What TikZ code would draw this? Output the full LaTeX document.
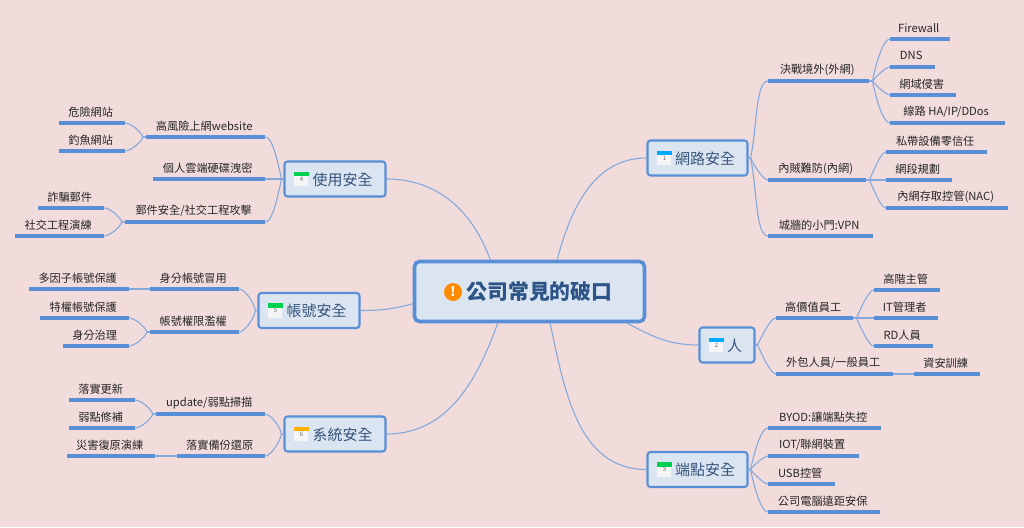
\documentclass[tikz,border=0pt]{standalone}
\usepackage{fontspec}
\setmainfont{Noto Sans CJK TC}
\usetikzlibrary{positioning}
\definecolor{paper}{RGB}{242,220,219}
\definecolor{boxfill}{RGB}{219,229,241}
\definecolor{bline}{RGB}{88,143,214}
\definecolor{thin}{RGB}{133,169,220}
\definecolor{inkb}{RGB}{55,85,125}
\definecolor{inkr}{RGB}{44,84,134}
\definecolor{calblue}{RGB}{0,170,255}
\definecolor{calgreen}{RGB}{0,208,80}
\definecolor{calorange}{RGB}{255,176,0}
\tikzset{
  leaf/.style={anchor=south west,inner sep=0pt,minimum height=22pt,font=\fontsize{11.2}{13}\selectfont,text=black!85,
    execute at end node=\hspace*{3pt}},
  uline/.style={draw=bline,line width=3.2pt},
  topic/.style={draw=bline,line width=2.1pt,rounded corners=3pt,fill=boxfill,inner sep=0pt,text=inkb,text depth=0pt,
    font=\fontsize{15}{18}\selectfont,minimum height=35pt,execute at begin node=\hspace*{15pt}},
  calpage/.style={fill=white!96!black,inner sep=0pt,minimum size=14pt,font=\fontsize{6}{6}\selectfont,text=black!60},
  link/.style={draw=thin,line width=1.1pt},
  rup/.style={out=78,in=180,in looseness=.4},
  rdn/.style={out=-78,in=180,in looseness=.4},
  lup/.style={out=102,in=0,in looseness=.4},
  ldn/.style={out=-102,in=0,in looseness=.4},
}
\newcommand{\calicon}[4]{%
  \node[calpage] (#1) at ([xshift=18pt]#2.west) {\raisebox{-3.5pt}{#4}};
  \fill[#3] (#1.north west) rectangle ([yshift=-4.5pt]#1.north east);}
\begin{document}
\begin{tikzpicture}[x=1pt,y=-1pt]
\fill[paper] (0,0) rectangle (1024,527);
\useasboundingbox (0,0) rectangle (1024,527);
% centre
\node[draw=bline,line width=3.6pt,rounded corners=5pt,fill=boxfill,inner sep=0pt,minimum width=230pt,minimum height=60pt,
  text=inkr,font=\fontsize{20.8}{24}\bfseries\selectfont] (root) at (529.5,291.5) {\hspace*{20pt}公司常見的破口};
\node[circle,fill=orange!90!yellow,inner sep=0pt,minimum size=18pt,text=white,font=\fontsize{13}{13}\bfseries\selectfont] (warn) at (453,292) {!};
% main topics
\node[topic,minimum width=100pt] (net) at (697.5,158) {網路安全};
\node[topic,minimum width=55pt] (per) at (727,345) {人};
\node[topic,minimum width=100pt] (pnt) at (697.5,469.5) {端點安全};
\node[topic,minimum width=101pt] (use) at (335,179) {使用安全};
\node[topic,minimum width=101pt] (acc) at (309,310.5) {帳號安全};
\node[topic,minimum width=101pt] (sys) at (335,434) {系統安全};
\calicon{neticon}{net}{calblue}{1}
\calicon{pericon}{per}{calblue}{2}
\calicon{pnticon}{pnt}{calgreen}{3}
\calicon{useicon}{use}{calgreen}{4}
\calicon{accicon}{acc}{calgreen}{5}
\calicon{sysicon}{sys}{calorange}{6}
\draw[link] (root.49) to[out=75,in=180] (net.west);
\draw[link] (root.342) to[out=-28,in=180] (per.west);
\draw[link] (root.303) to[out=-78,in=180] (pnt.west);
\draw[link] (root.141) to[out=110,in=0] (use.east);
\draw[link] (root.186) to[out=195,in=0] (acc.east);
\draw[link] (root.225) to[out=250,in=0] (sys.east);
% network
\node[leaf,minimum width=101] (netout) at (768,81) {決戰境外(外網)};
\node[leaf,minimum width=60] (netfw) at (890,39) {Firewall};
\node[leaf,minimum width=45] (netdns) at (890,67) {DNS};
\node[leaf,minimum width=66] (netids) at (890,95) {網域侵害};
\node[leaf,minimum width=115] (netha) at (890,123) {線路 HA/IP/DDos};
\node[leaf,minimum width=98] (netin) at (768,180) {內賊難防(內網)};
\node[leaf,minimum width=101] (netbyo) at (886,152) {私帶設備零信任};
\node[leaf,minimum width=66] (netseg) at (886,180) {網段規劃};
\node[leaf,minimum width=122] (netnac) at (886,208) {內網存取控管(NAC)};
\node[leaf,minimum width=105] (netvpn) at (768,236) {城牆的小門:VPN};
\draw[link] (net.east) -- ++(2,0) to[rup] (netout.south west);
\draw[link] (net.east) -- ++(2,0) to[rdn,out=-65] (netin.south west);
\draw[link] (net.east) -- ++(2,0) to[rdn] (netvpn.south west);
\draw[link] (netout.south east) -- ++(3,0) to[rup] (netfw.south west);
\draw[link] (netout.south east) -- ++(3,0) to[rup,out=50] (netdns.south west);
\draw[link] (netout.south east) -- ++(3,0) to[rdn,out=-50] (netids.south west);
\draw[link] (netout.south east) -- ++(3,0) to[rdn] (netha.south west);
\draw[link] (netin.south east) -- ++(3,0) to[rup,out=65] (netbyo.south west);
\draw[link] (netin.south east) -- (netseg.south west);
\draw[link] (netin.south east) -- ++(3,0) to[rdn,out=-65] (netnac.south west);
% people
\node[leaf,minimum width=77] (perkey) at (776,318) {高價值員工};
\node[leaf,minimum width=66] (perboss) at (874,290) {高階主管};
\node[leaf,minimum width=64] (perit) at (874,318) {IT管理者};
\node[leaf,minimum width=59] (perrd) at (874,346) {RD人員};
\node[leaf,minimum width=117] (perout) at (776,374) {外包人員/一般員工};
\node[leaf,minimum width=66] (pertrain) at (914,374) {資安訓練};
\draw[link] (per.east) -- ++(2,0) to[rup,out=65] (perkey.south west);
\draw[link] (per.east) -- ++(2,0) to[rdn,out=-65] (perout.south west);
\draw[link] (perkey.south east) -- ++(3,0) to[rup,out=65] (perboss.south west);
\draw[link] (perkey.south east) -- (perit.south west);
\draw[link] (perkey.south east) -- ++(3,0) to[rdn,out=-65] (perrd.south west);
\draw[link] (perout.south east) -- (pertrain.south west);
% endpoint
\node[leaf,minimum width=113] (pntbyod) at (768,428) {BYOD:讓端點失控};
\node[leaf,minimum width=91] (pntiot) at (768,456) {IOT/聯網裝置};
\node[leaf,minimum width=67] (pntusb) at (768,484) {USB控管};
\node[leaf,minimum width=112] (pntpc) at (768,512) {公司電腦遠距安保};
\draw[link] (pnt.east) -- ++(2,0) to[rup] (pntbyod.south west);
\draw[link] (pnt.east) -- ++(2,0) to[rup,out=50] (pntiot.south west);
\draw[link] (pnt.east) -- ++(2,0) to[rdn,out=-50] (pntusb.south west);
\draw[link] (pnt.east) -- ++(2,0) to[rdn] (pntpc.south west);
% usage
\node[leaf,minimum width=119] (useweb) at (146,137) {高風險上網website};
\node[leaf,minimum width=66] (usebad) at (59,123) {危險網站};
\node[leaf,minimum width=66] (usefish) at (59,151) {釣魚網站};
\node[leaf,minimum width=112] (usecloud) at (153,179) {個人雲端硬碟洩密};
\node[leaf,minimum width=140] (usemail) at (125,222) {郵件安全/社交工程攻擊};
\node[leaf,minimum width=66] (usefake) at (38,208) {詐騙郵件};
\node[leaf,minimum width=89] (usesoc) at (15,236) {社交工程演練};
\draw[link] (use.west) -- ++(-2,0) to[lup] (useweb.south east);
\draw[link] (use.west) -- (usecloud.south east);
\draw[link] (use.west) -- ++(-2,0) to[ldn] (usemail.south east);
\draw[link] (useweb.south west) -- ++(-3,0) to[lup,out=115] (usebad.south east);
\draw[link] (useweb.south west) -- ++(-3,0) to[ldn,out=-115] (usefish.south east);
\draw[link] (usemail.south west) -- ++(-3,0) to[lup,out=115] (usefake.south east);
\draw[link] (usemail.south west) -- ++(-3,0) to[ldn,out=-115] (usesoc.south east);
% account
\node[leaf,minimum width=89] (accid) at (150,289) {身分帳號冒用};
\node[leaf,minimum width=100] (accmfa) at (29,289) {多因子帳號保護};
\node[leaf,minimum width=89] (accpriv) at (150,332) {帳號權限濫權};
\node[leaf,minimum width=89] (accpam) at (40,318) {特權帳號保護};
\node[leaf,minimum width=66] (accgov) at (63,346) {身分治理};
\draw[link] (acc.west) -- ++(-2,0) to[lup] (accid.south east);
\draw[link] (acc.west) -- ++(-2,0) to[ldn] (accpriv.south east);
\draw[link] (accid.south west) -- (accmfa.south east);
\draw[link] (accpriv.south west) -- ++(-3,0) to[lup,out=115] (accpam.south east);
\draw[link] (accpriv.south west) -- ++(-3,0) to[ldn,out=-115] (accgov.south east);
% system
\node[leaf,minimum width=109] (sysscan) at (156,414) {update/弱點掃描};
\node[leaf,minimum width=66] (sysupd) at (69,400) {落實更新};
\node[leaf,minimum width=66] (sysfix) at (69,428) {弱點修補};
\node[leaf,minimum width=88] (sysbak) at (177,456) {落實備份還原};
\node[leaf,minimum width=88] (sysdr) at (67,456) {災害復原演練};
\draw[link] (sys.west) -- ++(-2,0) to[lup] (sysscan.south east);
\draw[link] (sys.west) -- ++(-2,0) to[ldn] (sysbak.south east);
\draw[link] (sysscan.south west) -- ++(-3,0) to[lup,out=115] (sysupd.south east);
\draw[link] (sysscan.south west) -- ++(-3,0) to[ldn,out=-115] (sysfix.south east);
\draw[link] (sysbak.south west) -- (sysdr.south east);
% underlines
\foreach \n in {netout,netfw,netdns,netids,netha,netin,netbyo,netseg,netnac,netvpn,
  perkey,perboss,perit,perrd,perout,pertrain,pntbyod,pntiot,pntusb,pntpc,
  useweb,usebad,usefish,usecloud,usemail,usefake,usesoc,
  accid,accmfa,accpriv,accpam,accgov,sysscan,sysupd,sysfix,sysbak,sysdr}
  \draw[uline] (\n.south west) -- (\n.south east);
\end{tikzpicture}
\end{document}
